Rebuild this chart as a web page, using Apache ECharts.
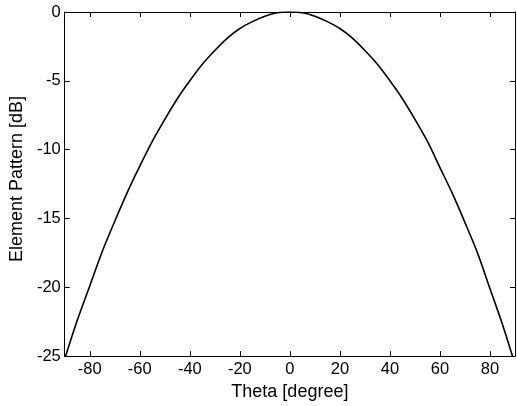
<!DOCTYPE html>
<html>
<head>
<meta charset="utf-8">
<script src="https://cdn.jsdelivr.net/npm/echarts@6/dist/echarts.min.js"></script>
<style>html,body{margin:0;padding:0;background:#fff;}#c{width:517px;height:406px;}</style>
</head>
<body>
<div id="c"></div>
<script>
const thetaDeg = [-90,-85,-80,-75,-70,-65,-60,-55,-50,-45,-40,-35,-30,-25,-20,-15,-10,-5,0,5,10,15,20,25,30,35,40,45,50,55,60,65,70,75,80,85,90];
const patternDb = [-25.2,-22.4,-19.9,-17.4,-15.2,-13.1,-11.2,-9.4,-7.8,-6.3,-5.0,-3.8,-2.8,-1.9,-1.2,-0.7,-0.3,-0.05,0,-0.05,-0.3,-0.7,-1.2,-1.9,-2.8,-3.8,-5.0,-6.3,-7.8,-9.4,-11.3,-13.2,-15.3,-17.5,-20.1,-22.7,-25.6];
const xTicks = [-80,-60,-40,-20,0,20,40,60,80];
const yTicks = [-25,-20,-15,-10,-5,0];

const font = 'Liberation Sans, Arial, sans-serif';
const axLine = {show:true, onZero:false, lineStyle:{color:'#000', width:1}};

const chart = echarts.init(document.getElementById('c'), null, {renderer:'canvas'});
chart.setOption({
  animation:false,
  backgroundColor:'#fff',
  grid:{left:63, right:2, top:12, bottom:44, containLabel:false},
  xAxis:[{
    type:'value', min:-90, max:90, position:'bottom',
    name:'Theta [degree]', nameLocation:'middle', nameGap:21,
    nameTextStyle:{color:'#000', fontSize:18, fontFamily:font},
    axisLine:axLine,
    axisTick:{show:true, inside:true, length:5, lineStyle:{color:'#000'}, customValues:xTicks},
    axisLabel:{color:'#000', fontSize:16.5, fontFamily:font, margin:5, customValues:xTicks},
    splitLine:{show:false}
  },{
    type:'value', min:-90, max:90, position:'top',
    axisLine:axLine,
    axisTick:{show:true, inside:true, length:5, lineStyle:{color:'#000'}, customValues:xTicks},
    axisLabel:{show:false},
    splitLine:{show:false}
  }],
  yAxis:[{
    type:'value', min:-25, max:0, interval:5, position:'left',
    name:'Element Pattern [dB]', nameLocation:'middle', nameGap:33,
    nameTextStyle:{color:'#000', fontSize:18, fontFamily:font, padding:[0,0,0,10]},
    axisLine:axLine,
    axisTick:{show:true, inside:true, length:5, lineStyle:{color:'#000'}},
    axisLabel:{color:'#000', fontSize:16.5, fontFamily:font, margin:4},
    splitLine:{show:false}
  },{
    type:'value', min:-25, max:0, interval:5, position:'right',
    axisLine:axLine,
    axisTick:{show:true, inside:true, length:5, lineStyle:{color:'#000'}},
    axisLabel:{show:false},
    splitLine:{show:false}
  }],
  series:[{
    type:'line',
    data: thetaDeg.map((t,i)=>[t, patternDb[i]]),
    showSymbol:false,
    smooth:0.3,
    clip:true,
    lineStyle:{color:'#000', width:1.6}
  }]
});
</script>
</body>
</html>
